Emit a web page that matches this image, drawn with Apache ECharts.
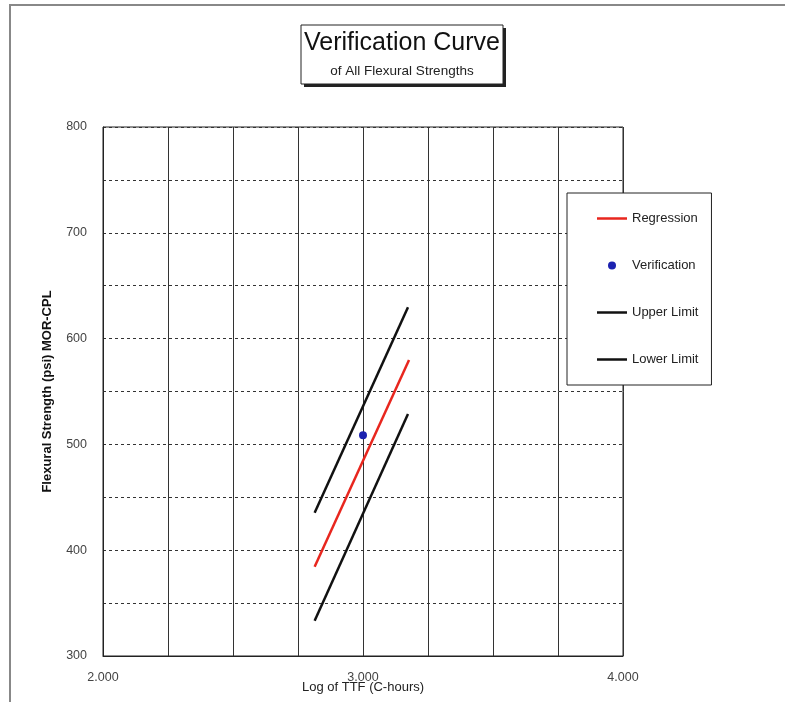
<!DOCTYPE html>
<html>
<head>
<meta charset="utf-8">
<script src="https://cdn.jsdelivr.net/npm/echarts@6/dist/echarts.min.js"></script>
<style>
html,body{margin:0;padding:0;background:#fff;}
#chart{width:785px;height:702px;}
</style>
</head>
<body>
<div id="chart"></div>
<script>
// Data
var regressionX = [2.814, 3.177];
var regressionY = [384.4, 579.8];
var upperX = [2.814, 3.173];
var upperY = [435.4, 629.6];
var lowerX = [2.814, 3.173];
var lowerY = [333.4, 528.7];
var verificationX = [3.0];
var verificationY = [508.6];
var xTickLabels = [2, 3, 4];
var yTickLabels = [300, 400, 500, 600, 700, 800];
var titleText = 'Verification Curve';
var subtitleText = 'of All Flexural Strengths';

function pairs(xs, ys) { return xs.map(function (x, i) { return [x, ys[i]]; }); }

var font = 'Liberation Sans, Arial, sans-serif';
var lineIcon = 'path://M0,0H30V2.5H0Z';
var chart = echarts.init(document.getElementById('chart'), null, {renderer: 'canvas'});
chart.setOption({
  animation: false,
  backgroundColor: '#fff',
  textStyle: {fontFamily: font},
  graphic: [
    {
      type: 'rect', silent: true, z: -10,
      shape: {x: 10, y: 5, width: 800, height: 720},
      style: {fill: 'none', stroke: '#888', lineWidth: 2}
    },
    {
      type: 'rect', silent: true, z: 10,
      shape: {x: 304, y: 28, width: 202, height: 59},
      style: {fill: '#222'}
    },
    {
      type: 'rect', silent: true, z: 11,
      shape: {x: 301, y: 25, width: 202, height: 59},
      style: {fill: '#fff', stroke: '#222', lineWidth: 1}
    },
    {
      type: 'text', silent: true, z: 12,
      x: 402, y: 43,
      style: {text: titleText, fontFamily: font, fontSize: 25, fill: '#111', align: 'center', verticalAlign: 'middle'}
    },
    {
      type: 'text', silent: true, z: 12,
      x: 402, y: 71.5,
      style: {text: subtitleText, fontFamily: font, fontSize: 13.5, fill: '#222', align: 'center', verticalAlign: 'middle'}
    }
  ],
  legend: {
    orient: 'vertical',
    left: 567, top: 193,
    padding: [19, 13, 19, 30],
    itemGap: 34,
    itemWidth: 30, itemHeight: 8,
    backgroundColor: '#fff',
    borderColor: '#222', borderWidth: 1,
    textStyle: {fontFamily: font, fontSize: 13, color: '#222'},
    data: [
      {name: 'Regression', icon: lineIcon},
      {name: 'Verification', icon: 'circle'},
      {name: 'Upper Limit', icon: lineIcon},
      {name: 'Lower Limit', icon: lineIcon}
    ]
  },
  grid: {
    left: 103, right: 162, top: 127, bottom: 46,
    outerBoundsMode: 'none', containLabel: false,
    show: true, borderColor: '#222', borderWidth: 1, backgroundColor: 'transparent'
  },
  xAxis: {
    type: 'value', min: 2, max: 4, interval: 0.25,
    name: 'Log of TTF (C-hours)', nameLocation: 'middle', nameGap: 25,
    nameMoveOverlap: false,
    nameTextStyle: {fontFamily: font, fontSize: 13, color: '#222'},
    axisLine: {show: true, onZero: false, lineStyle: {color: '#222', width: 1}},
    axisTick: {show: false},
    axisLabel: {
      margin: 15, fontSize: 12.5, color: '#444', fontFamily: font,
      formatter: function (v) { return xTickLabels.indexOf(Math.round(v * 1000) / 1000) >= 0 ? v.toFixed(3) : ''; }
    },
    splitLine: {show: true, lineStyle: {color: '#333', width: 1, type: 'solid'}}
  },
  yAxis: {
    type: 'value', min: 300, max: 800, interval: 50,
    name: 'Flexural Strength (psi) MOR-CPL', nameLocation: 'middle', nameGap: 49,
    nameMoveOverlap: false,
    nameTextStyle: {fontFamily: font, fontSize: 13, fontWeight: 'bold', color: '#111'},
    axisLine: {show: true, lineStyle: {color: '#222', width: 1}},
    axisTick: {show: false},
    axisLabel: {
      margin: 16, fontSize: 12.5, color: '#444', fontFamily: font,
      formatter: function (v) { return yTickLabels.indexOf(v) >= 0 ? String(v) : ''; }
    },
    splitLine: {show: true, lineStyle: {color: '#333', width: 1, type: [3, 3]}}
  },
  series: [
    {
      name: 'Regression', type: 'line', symbol: 'none',
      data: pairs(regressionX, regressionY),
      lineStyle: {color: '#e8261e', width: 2.5},
      itemStyle: {color: '#e8261e'}, z: 3
    },
    {
      name: 'Verification', type: 'scatter', symbol: 'circle', symbolSize: 8,
      data: pairs(verificationX, verificationY),
      itemStyle: {color: '#1c22b0', opacity: 1}, z: 4
    },
    {
      name: 'Upper Limit', type: 'line', symbol: 'none',
      data: pairs(upperX, upperY),
      lineStyle: {color: '#111', width: 2.5},
      itemStyle: {color: '#111'}, z: 3
    },
    {
      name: 'Lower Limit', type: 'line', symbol: 'none',
      data: pairs(lowerX, lowerY),
      lineStyle: {color: '#111', width: 2.5},
      itemStyle: {color: '#111'}, z: 3
    }
  ]
});
</script>
</body>
</html>
